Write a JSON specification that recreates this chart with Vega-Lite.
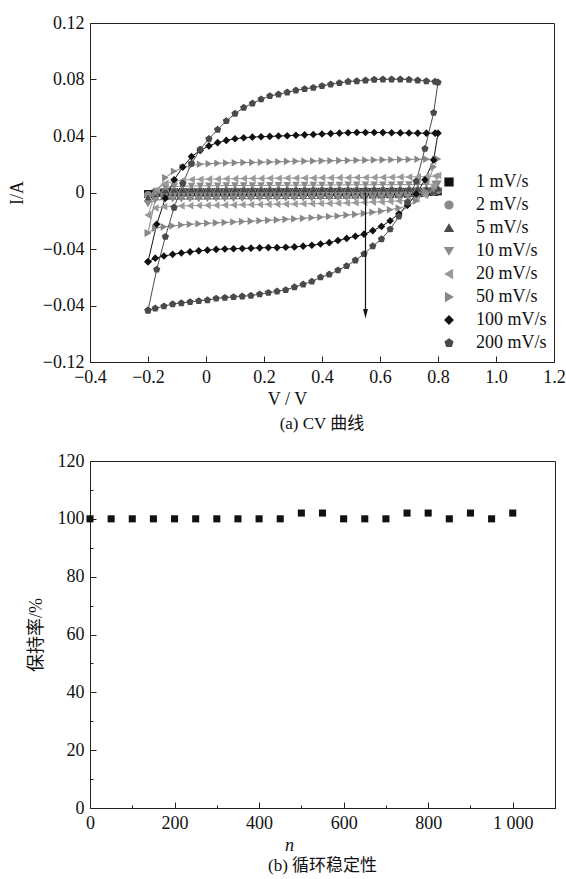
{
"$schema": "https://vega.github.io/schema/vega-lite/v6.json",
"padding": {"left": 7, "top": 13, "right": 0, "bottom": 0},
"config": {
 "font": "Liberation Serif",
 "view": {"stroke": "#222222", "strokeWidth": 1},
 "axis": {"grid": false, "labelFont": "Liberation Serif", "labelFontSize": 18, "labelColor": "#111111", "titleFont": "Liberation Serif, Noto Sans CJK SC", "titleFontSize": 18, "titleFontWeight": "normal", "titleColor": "#111111", "domainColor": "#222222", "tickColor": "#222222", "labelFlush": false, "labelOverlap": false, "labelPadding": 12},
 "title": {"font": "Liberation Serif, Noto Sans CJK SC", "fontSize": 17, "fontWeight": "normal", "color": "#111111"}
},
"datasets": {
"cv": [
{"s":"1 mV/s","i":0,"v":-0.2,"c":-0.001},{"s":"1 mV/s","i":1,"v":-0.17,"c":0.0002},{"s":"1 mV/s","i":2,"v":-0.14,"c":0.0004},{"s":"1 mV/s","i":3,"v":-0.11,"c":0.0004},{"s":"1 mV/s","i":4,"v":-0.08,"c":0.0005},{"s":"1 mV/s","i":5,"v":-0.05,"c":0.0005},{"s":"1 mV/s","i":6,"v":-0.02,"c":0.0005},{"s":"1 mV/s","i":7,"v":0.01,"c":0.0005},{"s":"1 mV/s","i":8,"v":0.04,"c":0.0005},{"s":"1 mV/s","i":9,"v":0.07,"c":0.0005},{"s":"1 mV/s","i":10,"v":0.1,"c":0.0005},{"s":"1 mV/s","i":11,"v":0.13,"c":0.0005},{"s":"1 mV/s","i":12,"v":0.16,"c":0.0005},{"s":"1 mV/s","i":13,"v":0.19,"c":0.0005},{"s":"1 mV/s","i":14,"v":0.22,"c":0.0005},{"s":"1 mV/s","i":15,"v":0.25,"c":0.0005},{"s":"1 mV/s","i":16,"v":0.28,"c":0.0005},{"s":"1 mV/s","i":17,"v":0.31,"c":0.0005},{"s":"1 mV/s","i":18,"v":0.34,"c":0.0005},{"s":"1 mV/s","i":19,"v":0.37,"c":0.0006},{"s":"1 mV/s","i":20,"v":0.4,"c":0.0006},{"s":"1 mV/s","i":21,"v":0.43,"c":0.0006},{"s":"1 mV/s","i":22,"v":0.46,"c":0.0006},{"s":"1 mV/s","i":23,"v":0.49,"c":0.0006},{"s":"1 mV/s","i":24,"v":0.52,"c":0.0006},{"s":"1 mV/s","i":25,"v":0.55,"c":0.0006},{"s":"1 mV/s","i":26,"v":0.58,"c":0.0006},{"s":"1 mV/s","i":27,"v":0.61,"c":0.0006},{"s":"1 mV/s","i":28,"v":0.64,"c":0.0006},{"s":"1 mV/s","i":29,"v":0.67,"c":0.0006},{"s":"1 mV/s","i":30,"v":0.7,"c":0.0006},{"s":"1 mV/s","i":31,"v":0.73,"c":0.0006},{"s":"1 mV/s","i":32,"v":0.76,"c":0.0007},{"s":"1 mV/s","i":33,"v":0.79,"c":0.0007},{"s":"1 mV/s","i":34,"v":0.8,"c":0.0007},
{"s":"1 mV/s","i":35,"v":0.785,"c":0.0002},{"s":"1 mV/s","i":36,"v":0.755,"c":-0.0003},{"s":"1 mV/s","i":37,"v":0.725,"c":-0.0004},{"s":"1 mV/s","i":38,"v":0.695,"c":-0.0004},{"s":"1 mV/s","i":39,"v":0.665,"c":-0.0005},{"s":"1 mV/s","i":40,"v":0.635,"c":-0.0005},{"s":"1 mV/s","i":41,"v":0.605,"c":-0.0005},{"s":"1 mV/s","i":42,"v":0.575,"c":-0.0005},{"s":"1 mV/s","i":43,"v":0.545,"c":-0.0005},{"s":"1 mV/s","i":44,"v":0.515,"c":-0.0005},{"s":"1 mV/s","i":45,"v":0.485,"c":-0.0005},{"s":"1 mV/s","i":46,"v":0.455,"c":-0.0005},{"s":"1 mV/s","i":47,"v":0.425,"c":-0.0005},{"s":"1 mV/s","i":48,"v":0.395,"c":-0.0005},{"s":"1 mV/s","i":49,"v":0.365,"c":-0.0005},{"s":"1 mV/s","i":50,"v":0.335,"c":-0.0005},{"s":"1 mV/s","i":51,"v":0.305,"c":-0.0005},{"s":"1 mV/s","i":52,"v":0.275,"c":-0.0005},{"s":"1 mV/s","i":53,"v":0.245,"c":-0.0005},{"s":"1 mV/s","i":54,"v":0.215,"c":-0.0005},{"s":"1 mV/s","i":55,"v":0.185,"c":-0.0005},{"s":"1 mV/s","i":56,"v":0.155,"c":-0.0005},{"s":"1 mV/s","i":57,"v":0.125,"c":-0.0005},{"s":"1 mV/s","i":58,"v":0.095,"c":-0.0006},{"s":"1 mV/s","i":59,"v":0.065,"c":-0.0006},{"s":"1 mV/s","i":60,"v":0.035,"c":-0.0006},{"s":"1 mV/s","i":61,"v":0.005,"c":-0.0006},{"s":"1 mV/s","i":62,"v":-0.025,"c":-0.0006},{"s":"1 mV/s","i":63,"v":-0.055,"c":-0.0006},{"s":"1 mV/s","i":64,"v":-0.085,"c":-0.0006},{"s":"1 mV/s","i":65,"v":-0.115,"c":-0.0006},{"s":"1 mV/s","i":66,"v":-0.145,"c":-0.0006},{"s":"1 mV/s","i":67,"v":-0.175,"c":-0.0007},{"s":"1 mV/s","i":68,"v":-0.2,"c":-0.001},
{"s":"2 mV/s","i":0,"v":-0.2,"c":-0.0018},{"s":"2 mV/s","i":1,"v":-0.17,"c":0.0004},{"s":"2 mV/s","i":2,"v":-0.14,"c":0.0008},{"s":"2 mV/s","i":3,"v":-0.11,"c":0.0009},{"s":"2 mV/s","i":4,"v":-0.08,"c":0.0009},{"s":"2 mV/s","i":5,"v":-0.05,"c":0.001},{"s":"2 mV/s","i":6,"v":-0.02,"c":0.001},{"s":"2 mV/s","i":7,"v":0.01,"c":0.001},{"s":"2 mV/s","i":8,"v":0.04,"c":0.001},{"s":"2 mV/s","i":9,"v":0.07,"c":0.001},{"s":"2 mV/s","i":10,"v":0.1,"c":0.001},{"s":"2 mV/s","i":11,"v":0.13,"c":0.001},{"s":"2 mV/s","i":12,"v":0.16,"c":0.001},{"s":"2 mV/s","i":13,"v":0.19,"c":0.001},{"s":"2 mV/s","i":14,"v":0.22,"c":0.001},{"s":"2 mV/s","i":15,"v":0.25,"c":0.001},{"s":"2 mV/s","i":16,"v":0.28,"c":0.001},{"s":"2 mV/s","i":17,"v":0.31,"c":0.0011},{"s":"2 mV/s","i":18,"v":0.34,"c":0.0011},{"s":"2 mV/s","i":19,"v":0.37,"c":0.0011},{"s":"2 mV/s","i":20,"v":0.4,"c":0.0011},{"s":"2 mV/s","i":21,"v":0.43,"c":0.0011},{"s":"2 mV/s","i":22,"v":0.46,"c":0.0011},{"s":"2 mV/s","i":23,"v":0.49,"c":0.0011},{"s":"2 mV/s","i":24,"v":0.52,"c":0.0011},{"s":"2 mV/s","i":25,"v":0.55,"c":0.0011},{"s":"2 mV/s","i":26,"v":0.58,"c":0.0012},{"s":"2 mV/s","i":27,"v":0.61,"c":0.0012},{"s":"2 mV/s","i":28,"v":0.64,"c":0.0012},{"s":"2 mV/s","i":29,"v":0.67,"c":0.0012},{"s":"2 mV/s","i":30,"v":0.7,"c":0.0012},{"s":"2 mV/s","i":31,"v":0.73,"c":0.0012},{"s":"2 mV/s","i":32,"v":0.76,"c":0.0013},{"s":"2 mV/s","i":33,"v":0.79,"c":0.0014},{"s":"2 mV/s","i":34,"v":0.8,"c":0.0014},
{"s":"2 mV/s","i":35,"v":0.785,"c":0.0004},{"s":"2 mV/s","i":36,"v":0.755,"c":-0.0005},{"s":"2 mV/s","i":37,"v":0.725,"c":-0.0008},{"s":"2 mV/s","i":38,"v":0.695,"c":-0.0009},{"s":"2 mV/s","i":39,"v":0.665,"c":-0.0009},{"s":"2 mV/s","i":40,"v":0.635,"c":-0.001},{"s":"2 mV/s","i":41,"v":0.605,"c":-0.001},{"s":"2 mV/s","i":42,"v":0.575,"c":-0.001},{"s":"2 mV/s","i":43,"v":0.545,"c":-0.001},{"s":"2 mV/s","i":44,"v":0.515,"c":-0.001},{"s":"2 mV/s","i":45,"v":0.485,"c":-0.001},{"s":"2 mV/s","i":46,"v":0.455,"c":-0.001},{"s":"2 mV/s","i":47,"v":0.425,"c":-0.001},{"s":"2 mV/s","i":48,"v":0.395,"c":-0.001},{"s":"2 mV/s","i":49,"v":0.365,"c":-0.001},{"s":"2 mV/s","i":50,"v":0.335,"c":-0.001},{"s":"2 mV/s","i":51,"v":0.305,"c":-0.001},{"s":"2 mV/s","i":52,"v":0.275,"c":-0.0011},{"s":"2 mV/s","i":53,"v":0.245,"c":-0.0011},{"s":"2 mV/s","i":54,"v":0.215,"c":-0.0011},{"s":"2 mV/s","i":55,"v":0.185,"c":-0.0011},{"s":"2 mV/s","i":56,"v":0.155,"c":-0.0011},{"s":"2 mV/s","i":57,"v":0.125,"c":-0.0011},{"s":"2 mV/s","i":58,"v":0.095,"c":-0.0011},{"s":"2 mV/s","i":59,"v":0.065,"c":-0.0011},{"s":"2 mV/s","i":60,"v":0.035,"c":-0.0011},{"s":"2 mV/s","i":61,"v":0.005,"c":-0.0012},{"s":"2 mV/s","i":62,"v":-0.025,"c":-0.0012},{"s":"2 mV/s","i":63,"v":-0.055,"c":-0.0012},{"s":"2 mV/s","i":64,"v":-0.085,"c":-0.0012},{"s":"2 mV/s","i":65,"v":-0.115,"c":-0.0012},{"s":"2 mV/s","i":66,"v":-0.145,"c":-0.0012},{"s":"2 mV/s","i":67,"v":-0.175,"c":-0.0013},{"s":"2 mV/s","i":68,"v":-0.2,"c":-0.0018},
{"s":"5 mV/s","i":0,"v":-0.2,"c":-0.004},{"s":"5 mV/s","i":1,"v":-0.17,"c":0.0008},{"s":"5 mV/s","i":2,"v":-0.14,"c":0.0018},{"s":"5 mV/s","i":3,"v":-0.11,"c":0.0021},{"s":"5 mV/s","i":4,"v":-0.08,"c":0.0022},{"s":"5 mV/s","i":5,"v":-0.05,"c":0.0023},{"s":"5 mV/s","i":6,"v":-0.02,"c":0.0023},{"s":"5 mV/s","i":7,"v":0.01,"c":0.0024},{"s":"5 mV/s","i":8,"v":0.04,"c":0.0024},{"s":"5 mV/s","i":9,"v":0.07,"c":0.0024},{"s":"5 mV/s","i":10,"v":0.1,"c":0.0025},{"s":"5 mV/s","i":11,"v":0.13,"c":0.0025},{"s":"5 mV/s","i":12,"v":0.16,"c":0.0025},{"s":"5 mV/s","i":13,"v":0.19,"c":0.0025},{"s":"5 mV/s","i":14,"v":0.22,"c":0.0025},{"s":"5 mV/s","i":15,"v":0.25,"c":0.0026},{"s":"5 mV/s","i":16,"v":0.28,"c":0.0026},{"s":"5 mV/s","i":17,"v":0.31,"c":0.0026},{"s":"5 mV/s","i":18,"v":0.34,"c":0.0026},{"s":"5 mV/s","i":19,"v":0.37,"c":0.0026},{"s":"5 mV/s","i":20,"v":0.4,"c":0.0027},{"s":"5 mV/s","i":21,"v":0.43,"c":0.0027},{"s":"5 mV/s","i":22,"v":0.46,"c":0.0027},{"s":"5 mV/s","i":23,"v":0.49,"c":0.0027},{"s":"5 mV/s","i":24,"v":0.52,"c":0.0027},{"s":"5 mV/s","i":25,"v":0.55,"c":0.0028},{"s":"5 mV/s","i":26,"v":0.58,"c":0.0028},{"s":"5 mV/s","i":27,"v":0.61,"c":0.0028},{"s":"5 mV/s","i":28,"v":0.64,"c":0.0028},{"s":"5 mV/s","i":29,"v":0.67,"c":0.0028},{"s":"5 mV/s","i":30,"v":0.7,"c":0.0029},{"s":"5 mV/s","i":31,"v":0.73,"c":0.0029},{"s":"5 mV/s","i":32,"v":0.76,"c":0.003},{"s":"5 mV/s","i":33,"v":0.79,"c":0.0031},{"s":"5 mV/s","i":34,"v":0.8,"c":0.0032},
{"s":"5 mV/s","i":35,"v":0.785,"c":0.001},{"s":"5 mV/s","i":36,"v":0.755,"c":-0.0005},{"s":"5 mV/s","i":37,"v":0.725,"c":-0.0012},{"s":"5 mV/s","i":38,"v":0.695,"c":-0.0015},{"s":"5 mV/s","i":39,"v":0.665,"c":-0.0017},{"s":"5 mV/s","i":40,"v":0.635,"c":-0.0018},{"s":"5 mV/s","i":41,"v":0.605,"c":-0.0019},{"s":"5 mV/s","i":42,"v":0.575,"c":-0.0019},{"s":"5 mV/s","i":43,"v":0.545,"c":-0.002},{"s":"5 mV/s","i":44,"v":0.515,"c":-0.002},{"s":"5 mV/s","i":45,"v":0.485,"c":-0.002},{"s":"5 mV/s","i":46,"v":0.455,"c":-0.0021},{"s":"5 mV/s","i":47,"v":0.425,"c":-0.0021},{"s":"5 mV/s","i":48,"v":0.395,"c":-0.0021},{"s":"5 mV/s","i":49,"v":0.365,"c":-0.0021},{"s":"5 mV/s","i":50,"v":0.335,"c":-0.0022},{"s":"5 mV/s","i":51,"v":0.305,"c":-0.0022},{"s":"5 mV/s","i":52,"v":0.275,"c":-0.0022},{"s":"5 mV/s","i":53,"v":0.245,"c":-0.0022},{"s":"5 mV/s","i":54,"v":0.215,"c":-0.0022},{"s":"5 mV/s","i":55,"v":0.185,"c":-0.0023},{"s":"5 mV/s","i":56,"v":0.155,"c":-0.0023},{"s":"5 mV/s","i":57,"v":0.125,"c":-0.0023},{"s":"5 mV/s","i":58,"v":0.095,"c":-0.0023},{"s":"5 mV/s","i":59,"v":0.065,"c":-0.0023},{"s":"5 mV/s","i":60,"v":0.035,"c":-0.0024},{"s":"5 mV/s","i":61,"v":0.005,"c":-0.0024},{"s":"5 mV/s","i":62,"v":-0.025,"c":-0.0024},{"s":"5 mV/s","i":63,"v":-0.055,"c":-0.0024},{"s":"5 mV/s","i":64,"v":-0.085,"c":-0.0025},{"s":"5 mV/s","i":65,"v":-0.115,"c":-0.0025},{"s":"5 mV/s","i":66,"v":-0.145,"c":-0.0026},{"s":"5 mV/s","i":67,"v":-0.175,"c":-0.0028},{"s":"5 mV/s","i":68,"v":-0.2,"c":-0.004},
{"s":"10 mV/s","i":0,"v":-0.2,"c":-0.008},{"s":"10 mV/s","i":1,"v":-0.17,"c":0.001},{"s":"10 mV/s","i":2,"v":-0.14,"c":0.0035},{"s":"10 mV/s","i":3,"v":-0.11,"c":0.0042},{"s":"10 mV/s","i":4,"v":-0.08,"c":0.0045},{"s":"10 mV/s","i":5,"v":-0.05,"c":0.0046},{"s":"10 mV/s","i":6,"v":-0.02,"c":0.0047},{"s":"10 mV/s","i":7,"v":0.01,"c":0.0048},{"s":"10 mV/s","i":8,"v":0.04,"c":0.0048},{"s":"10 mV/s","i":9,"v":0.07,"c":0.0049},{"s":"10 mV/s","i":10,"v":0.1,"c":0.0049},{"s":"10 mV/s","i":11,"v":0.13,"c":0.005},{"s":"10 mV/s","i":12,"v":0.16,"c":0.005},{"s":"10 mV/s","i":13,"v":0.19,"c":0.005},{"s":"10 mV/s","i":14,"v":0.22,"c":0.0051},{"s":"10 mV/s","i":15,"v":0.25,"c":0.0051},{"s":"10 mV/s","i":16,"v":0.28,"c":0.0051},{"s":"10 mV/s","i":17,"v":0.31,"c":0.0052},{"s":"10 mV/s","i":18,"v":0.34,"c":0.0052},{"s":"10 mV/s","i":19,"v":0.37,"c":0.0052},{"s":"10 mV/s","i":20,"v":0.4,"c":0.0053},{"s":"10 mV/s","i":21,"v":0.43,"c":0.0053},{"s":"10 mV/s","i":22,"v":0.46,"c":0.0053},{"s":"10 mV/s","i":23,"v":0.49,"c":0.0054},{"s":"10 mV/s","i":24,"v":0.52,"c":0.0054},{"s":"10 mV/s","i":25,"v":0.55,"c":0.0054},{"s":"10 mV/s","i":26,"v":0.58,"c":0.0055},{"s":"10 mV/s","i":27,"v":0.61,"c":0.0055},{"s":"10 mV/s","i":28,"v":0.64,"c":0.0055},{"s":"10 mV/s","i":29,"v":0.67,"c":0.0056},{"s":"10 mV/s","i":30,"v":0.7,"c":0.0056},{"s":"10 mV/s","i":31,"v":0.73,"c":0.0057},{"s":"10 mV/s","i":32,"v":0.76,"c":0.0058},{"s":"10 mV/s","i":33,"v":0.79,"c":0.006},{"s":"10 mV/s","i":34,"v":0.8,"c":0.0062},
{"s":"10 mV/s","i":35,"v":0.785,"c":0.002},{"s":"10 mV/s","i":36,"v":0.755,"c":-0.001},{"s":"10 mV/s","i":37,"v":0.725,"c":-0.0025},{"s":"10 mV/s","i":38,"v":0.695,"c":-0.003},{"s":"10 mV/s","i":39,"v":0.665,"c":-0.0033},{"s":"10 mV/s","i":40,"v":0.635,"c":-0.0035},{"s":"10 mV/s","i":41,"v":0.605,"c":-0.0036},{"s":"10 mV/s","i":42,"v":0.575,"c":-0.0037},{"s":"10 mV/s","i":43,"v":0.545,"c":-0.0038},{"s":"10 mV/s","i":44,"v":0.515,"c":-0.0039},{"s":"10 mV/s","i":45,"v":0.485,"c":-0.004},{"s":"10 mV/s","i":46,"v":0.455,"c":-0.004},{"s":"10 mV/s","i":47,"v":0.425,"c":-0.0041},{"s":"10 mV/s","i":48,"v":0.395,"c":-0.0041},{"s":"10 mV/s","i":49,"v":0.365,"c":-0.0042},{"s":"10 mV/s","i":50,"v":0.335,"c":-0.0042},{"s":"10 mV/s","i":51,"v":0.305,"c":-0.0043},{"s":"10 mV/s","i":52,"v":0.275,"c":-0.0043},{"s":"10 mV/s","i":53,"v":0.245,"c":-0.0044},{"s":"10 mV/s","i":54,"v":0.215,"c":-0.0044},{"s":"10 mV/s","i":55,"v":0.185,"c":-0.0044},{"s":"10 mV/s","i":56,"v":0.155,"c":-0.0045},{"s":"10 mV/s","i":57,"v":0.125,"c":-0.0045},{"s":"10 mV/s","i":58,"v":0.095,"c":-0.0045},{"s":"10 mV/s","i":59,"v":0.065,"c":-0.0046},{"s":"10 mV/s","i":60,"v":0.035,"c":-0.0046},{"s":"10 mV/s","i":61,"v":0.005,"c":-0.0046},{"s":"10 mV/s","i":62,"v":-0.025,"c":-0.0047},{"s":"10 mV/s","i":63,"v":-0.055,"c":-0.0047},{"s":"10 mV/s","i":64,"v":-0.085,"c":-0.0048},{"s":"10 mV/s","i":65,"v":-0.115,"c":-0.0048},{"s":"10 mV/s","i":66,"v":-0.145,"c":-0.0049},{"s":"10 mV/s","i":67,"v":-0.175,"c":-0.0055},{"s":"10 mV/s","i":68,"v":-0.2,"c":-0.008},
{"s":"20 mV/s","i":0,"v":-0.2,"c":-0.016},{"s":"20 mV/s","i":1,"v":-0.17,"c":0.002},{"s":"20 mV/s","i":2,"v":-0.14,"c":0.0065},{"s":"20 mV/s","i":3,"v":-0.11,"c":0.008},{"s":"20 mV/s","i":4,"v":-0.08,"c":0.0088},{"s":"20 mV/s","i":5,"v":-0.05,"c":0.0092},{"s":"20 mV/s","i":6,"v":-0.02,"c":0.0094},{"s":"20 mV/s","i":7,"v":0.01,"c":0.0095},{"s":"20 mV/s","i":8,"v":0.04,"c":0.0096},{"s":"20 mV/s","i":9,"v":0.07,"c":0.0097},{"s":"20 mV/s","i":10,"v":0.1,"c":0.0098},{"s":"20 mV/s","i":11,"v":0.13,"c":0.0099},{"s":"20 mV/s","i":12,"v":0.16,"c":0.01},{"s":"20 mV/s","i":13,"v":0.19,"c":0.01},{"s":"20 mV/s","i":14,"v":0.22,"c":0.0101},{"s":"20 mV/s","i":15,"v":0.25,"c":0.0101},{"s":"20 mV/s","i":16,"v":0.28,"c":0.0102},{"s":"20 mV/s","i":17,"v":0.31,"c":0.0102},{"s":"20 mV/s","i":18,"v":0.34,"c":0.0103},{"s":"20 mV/s","i":19,"v":0.37,"c":0.0103},{"s":"20 mV/s","i":20,"v":0.4,"c":0.0104},{"s":"20 mV/s","i":21,"v":0.43,"c":0.0104},{"s":"20 mV/s","i":22,"v":0.46,"c":0.0105},{"s":"20 mV/s","i":23,"v":0.49,"c":0.0105},{"s":"20 mV/s","i":24,"v":0.52,"c":0.0106},{"s":"20 mV/s","i":25,"v":0.55,"c":0.0106},{"s":"20 mV/s","i":26,"v":0.58,"c":0.0107},{"s":"20 mV/s","i":27,"v":0.61,"c":0.0107},{"s":"20 mV/s","i":28,"v":0.64,"c":0.0108},{"s":"20 mV/s","i":29,"v":0.67,"c":0.0109},{"s":"20 mV/s","i":30,"v":0.7,"c":0.011},{"s":"20 mV/s","i":31,"v":0.73,"c":0.0111},{"s":"20 mV/s","i":32,"v":0.76,"c":0.0113},{"s":"20 mV/s","i":33,"v":0.79,"c":0.0116},{"s":"20 mV/s","i":34,"v":0.8,"c":0.012},
{"s":"20 mV/s","i":35,"v":0.785,"c":0.005},{"s":"20 mV/s","i":36,"v":0.755,"c":-0.002},{"s":"20 mV/s","i":37,"v":0.725,"c":-0.0045},{"s":"20 mV/s","i":38,"v":0.695,"c":-0.0055},{"s":"20 mV/s","i":39,"v":0.665,"c":-0.006},{"s":"20 mV/s","i":40,"v":0.635,"c":-0.0063},{"s":"20 mV/s","i":41,"v":0.605,"c":-0.0066},{"s":"20 mV/s","i":42,"v":0.575,"c":-0.0068},{"s":"20 mV/s","i":43,"v":0.545,"c":-0.007},{"s":"20 mV/s","i":44,"v":0.515,"c":-0.0072},{"s":"20 mV/s","i":45,"v":0.485,"c":-0.0074},{"s":"20 mV/s","i":46,"v":0.455,"c":-0.0076},{"s":"20 mV/s","i":47,"v":0.425,"c":-0.0077},{"s":"20 mV/s","i":48,"v":0.395,"c":-0.0078},{"s":"20 mV/s","i":49,"v":0.365,"c":-0.0079},{"s":"20 mV/s","i":50,"v":0.335,"c":-0.008},{"s":"20 mV/s","i":51,"v":0.305,"c":-0.0081},{"s":"20 mV/s","i":52,"v":0.275,"c":-0.0082},{"s":"20 mV/s","i":53,"v":0.245,"c":-0.0083},{"s":"20 mV/s","i":54,"v":0.215,"c":-0.0084},{"s":"20 mV/s","i":55,"v":0.185,"c":-0.0085},{"s":"20 mV/s","i":56,"v":0.155,"c":-0.0086},{"s":"20 mV/s","i":57,"v":0.125,"c":-0.0087},{"s":"20 mV/s","i":58,"v":0.095,"c":-0.0088},{"s":"20 mV/s","i":59,"v":0.065,"c":-0.0089},{"s":"20 mV/s","i":60,"v":0.035,"c":-0.009},{"s":"20 mV/s","i":61,"v":0.005,"c":-0.0091},{"s":"20 mV/s","i":62,"v":-0.025,"c":-0.0092},{"s":"20 mV/s","i":63,"v":-0.055,"c":-0.0093},{"s":"20 mV/s","i":64,"v":-0.085,"c":-0.0095},{"s":"20 mV/s","i":65,"v":-0.115,"c":-0.0097},{"s":"20 mV/s","i":66,"v":-0.145,"c":-0.01},{"s":"20 mV/s","i":67,"v":-0.175,"c":-0.011},{"s":"20 mV/s","i":68,"v":-0.2,"c":-0.016},
{"s":"50 mV/s","i":0,"v":-0.2,"c":-0.0287},{"s":"50 mV/s","i":1,"v":-0.17,"c":0.0},{"s":"50 mV/s","i":2,"v":-0.14,"c":0.0105},{"s":"50 mV/s","i":3,"v":-0.11,"c":0.015},{"s":"50 mV/s","i":4,"v":-0.08,"c":0.0178},{"s":"50 mV/s","i":5,"v":-0.05,"c":0.0192},{"s":"50 mV/s","i":6,"v":-0.02,"c":0.02},{"s":"50 mV/s","i":7,"v":0.01,"c":0.0204},{"s":"50 mV/s","i":8,"v":0.04,"c":0.0207},{"s":"50 mV/s","i":9,"v":0.07,"c":0.0209},{"s":"50 mV/s","i":10,"v":0.1,"c":0.0211},{"s":"50 mV/s","i":11,"v":0.13,"c":0.0212},{"s":"50 mV/s","i":12,"v":0.16,"c":0.0213},{"s":"50 mV/s","i":13,"v":0.19,"c":0.0214},{"s":"50 mV/s","i":14,"v":0.22,"c":0.0216},{"s":"50 mV/s","i":15,"v":0.25,"c":0.0218},{"s":"50 mV/s","i":16,"v":0.28,"c":0.022},{"s":"50 mV/s","i":17,"v":0.31,"c":0.0221},{"s":"50 mV/s","i":18,"v":0.34,"c":0.0222},{"s":"50 mV/s","i":19,"v":0.37,"c":0.0223},{"s":"50 mV/s","i":20,"v":0.4,"c":0.0224},{"s":"50 mV/s","i":21,"v":0.43,"c":0.0225},{"s":"50 mV/s","i":22,"v":0.46,"c":0.0226},{"s":"50 mV/s","i":23,"v":0.49,"c":0.0227},{"s":"50 mV/s","i":24,"v":0.52,"c":0.0228},{"s":"50 mV/s","i":25,"v":0.55,"c":0.0229},{"s":"50 mV/s","i":26,"v":0.58,"c":0.023},{"s":"50 mV/s","i":27,"v":0.61,"c":0.0231},{"s":"50 mV/s","i":28,"v":0.64,"c":0.0232},{"s":"50 mV/s","i":29,"v":0.67,"c":0.0233},{"s":"50 mV/s","i":30,"v":0.7,"c":0.0234},{"s":"50 mV/s","i":31,"v":0.73,"c":0.0235},{"s":"50 mV/s","i":32,"v":0.76,"c":0.0236},{"s":"50 mV/s","i":33,"v":0.79,"c":0.0237},{"s":"50 mV/s","i":34,"v":0.8,"c":0.0237},
{"s":"50 mV/s","i":35,"v":0.785,"c":0.018},{"s":"50 mV/s","i":36,"v":0.755,"c":0.001},{"s":"50 mV/s","i":37,"v":0.725,"c":-0.006},{"s":"50 mV/s","i":38,"v":0.695,"c":-0.0095},{"s":"50 mV/s","i":39,"v":0.665,"c":-0.011},{"s":"50 mV/s","i":40,"v":0.635,"c":-0.0122},{"s":"50 mV/s","i":41,"v":0.605,"c":-0.0132},{"s":"50 mV/s","i":42,"v":0.575,"c":-0.014},{"s":"50 mV/s","i":43,"v":0.545,"c":-0.0148},{"s":"50 mV/s","i":44,"v":0.515,"c":-0.0155},{"s":"50 mV/s","i":45,"v":0.485,"c":-0.016},{"s":"50 mV/s","i":46,"v":0.455,"c":-0.0166},{"s":"50 mV/s","i":47,"v":0.425,"c":-0.017},{"s":"50 mV/s","i":48,"v":0.395,"c":-0.0175},{"s":"50 mV/s","i":49,"v":0.365,"c":-0.0179},{"s":"50 mV/s","i":50,"v":0.335,"c":-0.0183},{"s":"50 mV/s","i":51,"v":0.305,"c":-0.0187},{"s":"50 mV/s","i":52,"v":0.275,"c":-0.019},{"s":"50 mV/s","i":53,"v":0.245,"c":-0.0194},{"s":"50 mV/s","i":54,"v":0.215,"c":-0.0197},{"s":"50 mV/s","i":55,"v":0.185,"c":-0.02},{"s":"50 mV/s","i":56,"v":0.155,"c":-0.0203},{"s":"50 mV/s","i":57,"v":0.125,"c":-0.0206},{"s":"50 mV/s","i":58,"v":0.095,"c":-0.0209},{"s":"50 mV/s","i":59,"v":0.065,"c":-0.0212},{"s":"50 mV/s","i":60,"v":0.035,"c":-0.0215},{"s":"50 mV/s","i":61,"v":0.005,"c":-0.0218},{"s":"50 mV/s","i":62,"v":-0.025,"c":-0.0221},{"s":"50 mV/s","i":63,"v":-0.055,"c":-0.0225},{"s":"50 mV/s","i":64,"v":-0.085,"c":-0.023},{"s":"50 mV/s","i":65,"v":-0.115,"c":-0.0236},{"s":"50 mV/s","i":66,"v":-0.145,"c":-0.0243},{"s":"50 mV/s","i":67,"v":-0.175,"c":-0.0252},{"s":"50 mV/s","i":68,"v":-0.2,"c":-0.0287},
{"s":"100 mV/s","i":0,"v":-0.2,"c":-0.049},{"s":"100 mV/s","i":1,"v":-0.17,"c":-0.0225},{"s":"100 mV/s","i":2,"v":-0.14,"c":-0.004},{"s":"100 mV/s","i":3,"v":-0.11,"c":0.009},{"s":"100 mV/s","i":4,"v":-0.08,"c":0.018},{"s":"100 mV/s","i":5,"v":-0.05,"c":0.0254},{"s":"100 mV/s","i":6,"v":-0.02,"c":0.0298},{"s":"100 mV/s","i":7,"v":0.01,"c":0.033},{"s":"100 mV/s","i":8,"v":0.04,"c":0.0353},{"s":"100 mV/s","i":9,"v":0.07,"c":0.0369},{"s":"100 mV/s","i":10,"v":0.1,"c":0.0381},{"s":"100 mV/s","i":11,"v":0.13,"c":0.0388},{"s":"100 mV/s","i":12,"v":0.16,"c":0.0392},{"s":"100 mV/s","i":13,"v":0.19,"c":0.0395},{"s":"100 mV/s","i":14,"v":0.22,"c":0.0397},{"s":"100 mV/s","i":15,"v":0.25,"c":0.04},{"s":"100 mV/s","i":16,"v":0.28,"c":0.0402},{"s":"100 mV/s","i":17,"v":0.31,"c":0.0405},{"s":"100 mV/s","i":18,"v":0.34,"c":0.0408},{"s":"100 mV/s","i":19,"v":0.37,"c":0.0411},{"s":"100 mV/s","i":20,"v":0.4,"c":0.0414},{"s":"100 mV/s","i":21,"v":0.43,"c":0.0417},{"s":"100 mV/s","i":22,"v":0.46,"c":0.042},{"s":"100 mV/s","i":23,"v":0.49,"c":0.0423},{"s":"100 mV/s","i":24,"v":0.52,"c":0.0425},{"s":"100 mV/s","i":25,"v":0.55,"c":0.0425},{"s":"100 mV/s","i":26,"v":0.58,"c":0.0425},{"s":"100 mV/s","i":27,"v":0.61,"c":0.0424},{"s":"100 mV/s","i":28,"v":0.64,"c":0.0423},{"s":"100 mV/s","i":29,"v":0.67,"c":0.0422},{"s":"100 mV/s","i":30,"v":0.7,"c":0.0421},{"s":"100 mV/s","i":31,"v":0.73,"c":0.042},{"s":"100 mV/s","i":32,"v":0.76,"c":0.042},{"s":"100 mV/s","i":33,"v":0.79,"c":0.042},{"s":"100 mV/s","i":34,"v":0.8,"c":0.042},
{"s":"100 mV/s","i":35,"v":0.785,"c":0.023},{"s":"100 mV/s","i":36,"v":0.755,"c":0.009},{"s":"100 mV/s","i":37,"v":0.725,"c":-0.001},{"s":"100 mV/s","i":38,"v":0.695,"c":-0.009},{"s":"100 mV/s","i":39,"v":0.665,"c":-0.015},{"s":"100 mV/s","i":40,"v":0.635,"c":-0.02},{"s":"100 mV/s","i":41,"v":0.605,"c":-0.024},{"s":"100 mV/s","i":42,"v":0.575,"c":-0.027},{"s":"100 mV/s","i":43,"v":0.545,"c":-0.0295},{"s":"100 mV/s","i":44,"v":0.515,"c":-0.031},{"s":"100 mV/s","i":45,"v":0.485,"c":-0.0325},{"s":"100 mV/s","i":46,"v":0.455,"c":-0.034},{"s":"100 mV/s","i":47,"v":0.425,"c":-0.0355},{"s":"100 mV/s","i":48,"v":0.395,"c":-0.0365},{"s":"100 mV/s","i":49,"v":0.365,"c":-0.0373},{"s":"100 mV/s","i":50,"v":0.335,"c":-0.038},{"s":"100 mV/s","i":51,"v":0.305,"c":-0.0385},{"s":"100 mV/s","i":52,"v":0.275,"c":-0.0388},{"s":"100 mV/s","i":53,"v":0.245,"c":-0.039},{"s":"100 mV/s","i":54,"v":0.215,"c":-0.039},{"s":"100 mV/s","i":55,"v":0.185,"c":-0.0392},{"s":"100 mV/s","i":56,"v":0.155,"c":-0.0394},{"s":"100 mV/s","i":57,"v":0.125,"c":-0.0396},{"s":"100 mV/s","i":58,"v":0.095,"c":-0.0398},{"s":"100 mV/s","i":59,"v":0.065,"c":-0.04},{"s":"100 mV/s","i":60,"v":0.035,"c":-0.0403},{"s":"100 mV/s","i":61,"v":0.005,"c":-0.0408},{"s":"100 mV/s","i":62,"v":-0.025,"c":-0.0413},{"s":"100 mV/s","i":63,"v":-0.055,"c":-0.042},{"s":"100 mV/s","i":64,"v":-0.085,"c":-0.0428},{"s":"100 mV/s","i":65,"v":-0.115,"c":-0.0438},{"s":"100 mV/s","i":66,"v":-0.145,"c":-0.045},{"s":"100 mV/s","i":67,"v":-0.175,"c":-0.0465},{"s":"100 mV/s","i":68,"v":-0.2,"c":-0.049},
{"s":"200 mV/s","i":0,"v":-0.2,"c":-0.0834},{"s":"200 mV/s","i":1,"v":-0.17,"c":-0.0545},{"s":"200 mV/s","i":2,"v":-0.14,"c":-0.0313},{"s":"200 mV/s","i":3,"v":-0.11,"c":-0.0107},{"s":"200 mV/s","i":4,"v":-0.08,"c":0.0065},{"s":"200 mV/s","i":5,"v":-0.05,"c":0.0205},{"s":"200 mV/s","i":6,"v":-0.02,"c":0.0305},{"s":"200 mV/s","i":7,"v":0.01,"c":0.038},{"s":"200 mV/s","i":8,"v":0.04,"c":0.0445},{"s":"200 mV/s","i":9,"v":0.07,"c":0.0506},{"s":"200 mV/s","i":10,"v":0.1,"c":0.0558},{"s":"200 mV/s","i":11,"v":0.13,"c":0.0601},{"s":"200 mV/s","i":12,"v":0.16,"c":0.0631},{"s":"200 mV/s","i":13,"v":0.19,"c":0.066},{"s":"200 mV/s","i":14,"v":0.22,"c":0.0683},{"s":"200 mV/s","i":15,"v":0.25,"c":0.0695},{"s":"200 mV/s","i":16,"v":0.28,"c":0.0709},{"s":"200 mV/s","i":17,"v":0.31,"c":0.0723},{"s":"200 mV/s","i":18,"v":0.34,"c":0.0733},{"s":"200 mV/s","i":19,"v":0.37,"c":0.0742},{"s":"200 mV/s","i":20,"v":0.4,"c":0.0754},{"s":"200 mV/s","i":21,"v":0.43,"c":0.0766},{"s":"200 mV/s","i":22,"v":0.46,"c":0.0775},{"s":"200 mV/s","i":23,"v":0.49,"c":0.0785},{"s":"200 mV/s","i":24,"v":0.52,"c":0.0789},{"s":"200 mV/s","i":25,"v":0.55,"c":0.0794},{"s":"200 mV/s","i":26,"v":0.58,"c":0.0799},{"s":"200 mV/s","i":27,"v":0.61,"c":0.0801},{"s":"200 mV/s","i":28,"v":0.64,"c":0.0801},{"s":"200 mV/s","i":29,"v":0.67,"c":0.0801},{"s":"200 mV/s","i":30,"v":0.7,"c":0.0799},{"s":"200 mV/s","i":31,"v":0.73,"c":0.0794},{"s":"200 mV/s","i":32,"v":0.76,"c":0.0789},{"s":"200 mV/s","i":33,"v":0.79,"c":0.0785},{"s":"200 mV/s","i":34,"v":0.8,"c":0.078},
{"s":"200 mV/s","i":35,"v":0.785,"c":0.0565},{"s":"200 mV/s","i":36,"v":0.755,"c":0.031},{"s":"200 mV/s","i":37,"v":0.725,"c":0.008},{"s":"200 mV/s","i":38,"v":0.695,"c":-0.007},{"s":"200 mV/s","i":39,"v":0.665,"c":-0.017},{"s":"200 mV/s","i":40,"v":0.635,"c":-0.026},{"s":"200 mV/s","i":41,"v":0.605,"c":-0.033},{"s":"200 mV/s","i":42,"v":0.575,"c":-0.038},{"s":"200 mV/s","i":43,"v":0.545,"c":-0.0435},{"s":"200 mV/s","i":44,"v":0.515,"c":-0.048},{"s":"200 mV/s","i":45,"v":0.485,"c":-0.052},{"s":"200 mV/s","i":46,"v":0.455,"c":-0.055},{"s":"200 mV/s","i":47,"v":0.425,"c":-0.058},{"s":"200 mV/s","i":48,"v":0.395,"c":-0.06},{"s":"200 mV/s","i":49,"v":0.365,"c":-0.063},{"s":"200 mV/s","i":50,"v":0.335,"c":-0.065},{"s":"200 mV/s","i":51,"v":0.305,"c":-0.067},{"s":"200 mV/s","i":52,"v":0.275,"c":-0.069},{"s":"200 mV/s","i":53,"v":0.245,"c":-0.07},{"s":"200 mV/s","i":54,"v":0.215,"c":-0.071},{"s":"200 mV/s","i":55,"v":0.185,"c":-0.072},{"s":"200 mV/s","i":56,"v":0.155,"c":-0.073},{"s":"200 mV/s","i":57,"v":0.125,"c":-0.0735},{"s":"200 mV/s","i":58,"v":0.095,"c":-0.074},{"s":"200 mV/s","i":59,"v":0.065,"c":-0.0745},{"s":"200 mV/s","i":60,"v":0.035,"c":-0.075},{"s":"200 mV/s","i":61,"v":0.005,"c":-0.0762},{"s":"200 mV/s","i":62,"v":-0.025,"c":-0.0768},{"s":"200 mV/s","i":63,"v":-0.055,"c":-0.0775},{"s":"200 mV/s","i":64,"v":-0.085,"c":-0.0783},{"s":"200 mV/s","i":65,"v":-0.115,"c":-0.079},{"s":"200 mV/s","i":66,"v":-0.145,"c":-0.0805},{"s":"200 mV/s","i":67,"v":-0.175,"c":-0.082},{"s":"200 mV/s","i":68,"v":-0.2,"c":-0.0834}
],
"arrow": [{"v": 0.55, "c0": 0, "c1": -0.084}],
"head": [{"v": 0.55, "c": -0.0858}],
"ret": [
{"n":0,"r":100},{"n":50,"r":100},{"n":100,"r":100},{"n":150,"r":100},{"n":200,"r":100},{"n":250,"r":100},{"n":300,"r":100},{"n":350,"r":100},{"n":400,"r":100},{"n":450,"r":100},{"n":500,"r":102},{"n":550,"r":102},{"n":600,"r":100},{"n":650,"r":100},{"n":700,"r":100},{"n":750,"r":102},{"n":800,"r":102},{"n":850,"r":100},{"n":900,"r":102},{"n":950,"r":100},{"n":1000,"r":102}
]
},
"vconcat": [
{
 "width": 464, "height": 339,
 "title": {"text": "(a) CV 曲线", "orient": "bottom", "offset": 8},
 "layer": [
  {
   "data": {"name": "cv"},
   "mark": {"type": "line", "strokeWidth": 1},
   "encoding": {
    "x": {"field": "v", "type": "quantitative", "scale": {"domain": [-0.4, 1.2], "nice": false, "zero": false},
      "axis": {"title": "V / V", "titleX": 197, "titlePadding": 4, "values": [-0.4,-0.3,-0.2,-0.1,0,0.1,0.2,0.3,0.4,0.5,0.6,0.7,0.8,0.9,1.0,1.1,1.2],
        "labelExpr": "round(datum.value*10)%2!=0 ? '' : (abs(datum.value)<1e-9 ? '0' : format(datum.value,'.1f'))",
        "tickSize": {"condition": {"test": "round(datum.value*10)%2==0", "value": -6}, "value": -3}}},
    "y": {"field": "c", "type": "quantitative", "scale": {"domain": [-0.12, 0.12], "nice": false, "zero": false},
      "axis": {"title": "I/A", "titlePadding": 16, "values": [-0.12,-0.1,-0.08,-0.06,-0.04,-0.02,0,0.02,0.04,0.06,0.08,0.1,0.12],
        "labelExpr": "abs(round(datum.value*100))%4!=0 ? '' : (abs(datum.value)<1e-9 ? '0' : (abs(datum.value+0.08)<1e-9 ? '−0.04' : format(datum.value,'.2f')))",
        "tickSize": {"condition": {"test": "abs(round(datum.value*100))%4==0", "value": -6}, "value": -3}}},
    "color": {"field": "s", "type": "nominal",
      "scale": {"domain": ["1 mV/s","2 mV/s","5 mV/s","10 mV/s","20 mV/s","50 mV/s","100 mV/s","200 mV/s"],
                "range": ["#111111","#8a8a8a","#4a4a4a","#8a8a8a","#9a9a9a","#878787","#111111","#4a4a4a"]},
      "legend": {"orient": "none", "legendX": 350, "legendY": 150, "title": null, "padding": 0,
        "labelFont": "Liberation Serif", "labelFontSize": 18, "labelColor": "#111111", "labelOffset": 18, "symbolSize": 60, "rowPadding": 5}},
    "order": {"field": "i", "type": "quantitative"}
   }
  },
  {
   "data": {"name": "cv"},
   "mark": {"type": "point", "filled": true, "opacity": 1, "size": 58},
   "encoding": {
    "x": {"field": "v", "type": "quantitative"},
    "y": {"field": "c", "type": "quantitative"},
    "color": {"field": "s", "type": "nominal"},
    "shape": {"field": "s", "type": "nominal", "legend": null,
      "scale": {"domain": ["1 mV/s","2 mV/s","5 mV/s","10 mV/s","20 mV/s","50 mV/s","100 mV/s","200 mV/s"],
                "range": ["square","circle","triangle-up","triangle-down","triangle-left","triangle-right","diamond","M0,-1L0.951,-0.309L0.588,0.809L-0.588,0.809L-0.951,-0.309Z"]}}
   }
  },
  {
   "data": {"name": "arrow"},
   "mark": {"type": "rule", "color": "#111111", "strokeWidth": 1.2},
   "encoding": {"x": {"field": "v", "type": "quantitative"}, "y": {"field": "c0", "type": "quantitative"}, "y2": {"field": "c1"}}
  },
  {
   "data": {"name": "head"},
   "mark": {"type": "point", "shape": "M-0.5,-1L0.5,-1L0,1Z", "filled": true, "color": "#111111", "opacity": 1, "size": 90},
   "encoding": {"x": {"field": "v", "type": "quantitative"}, "y": {"field": "c", "type": "quantitative"}}
  }
 ]
},
{
 "width": 465, "height": 347,
 "title": {"text": "(b) 循环稳定性", "orient": "bottom", "offset": 4},
 "data": {"name": "ret"},
 "mark": {"type": "point", "shape": "square", "filled": true, "color": "#111111", "opacity": 1, "size": 50},
 "encoding": {
  "x": {"field": "n", "type": "quantitative", "scale": {"domain": [0, 1100], "nice": false},
    "axis": {"title": "n", "titleFontStyle": "italic", "titleX": 199, "titlePadding": 1, "values": [0,100,200,300,400,500,600,700,800,900,1000,1100],
      "labelExpr": "datum.value%200!=0 ? '' : (datum.value==1000 ? '1 000' : format(datum.value,'d'))",
      "tickSize": {"condition": {"test": "datum.value%200==0", "value": -6}, "value": -3}}},
  "y": {"field": "r", "type": "quantitative", "scale": {"domain": [0, 120], "nice": false},
    "axis": {"title": "保持率/%", "titlePadding": 12, "values": [0,10,20,30,40,50,60,70,80,90,100,110,120],
      "labelExpr": "datum.value%20!=0 ? '' : format(datum.value,'d')",
      "tickSize": {"condition": {"test": "datum.value%20==0", "value": -6}, "value": -3}}}
 }
}
],
"spacing": 18
}
